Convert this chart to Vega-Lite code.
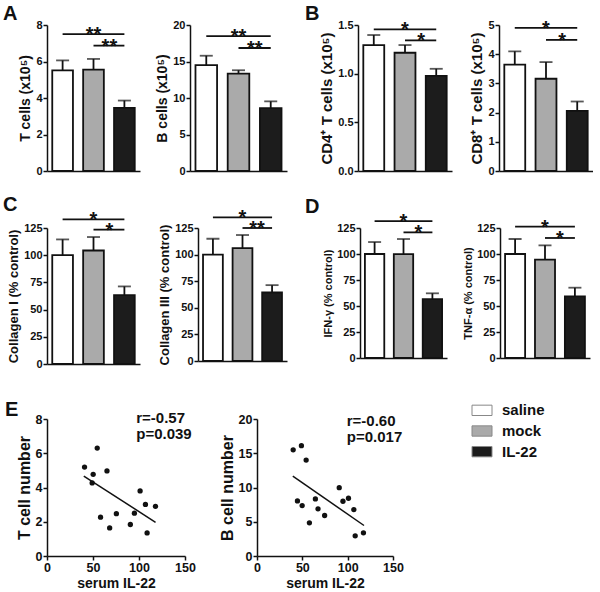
{
  "$schema": "https://vega.github.io/schema/vega-lite/v6.json",
  "padding": {"left": 3, "top": 4, "right": 0, "bottom": 0},
  "config": {
    "font": "Liberation Sans",
    "view": {"stroke": null},
    "axis": {"grid": false, "labelOverlap": false, "labelFlush": false, "domainColor": "#111", "domainWidth": 1.5, "tickColor": "#111", "tickWidth": 1.5, "tickSize": 4, "labelFontSize": 11, "labelFontWeight": "bold", "labelColor": "#111", "labelPadding": 1, "titleFontSize": 14, "titleFontWeight": "bold", "titleColor": "#111", "titlePadding": 3},
    "title": {"fontSize": 20, "fontWeight": "bold", "anchor": "start", "frame": "group", "color": "#111", "offset": -5}
  },
  "datasets": {
    "bars": [
      {"panel": "A1", "group": "saline", "mean": 5.51, "upper": 6.06},
      {"panel": "A1", "group": "mock", "mean": 5.55, "upper": 6.14},
      {"panel": "A1", "group": "IL-22", "mean": 3.46, "upper": 3.86},
      {"panel": "A2", "group": "saline", "mean": 14.49, "upper": 15.79},
      {"panel": "A2", "group": "mock", "mean": 13.33, "upper": 13.8},
      {"panel": "A2", "group": "IL-22", "mean": 8.61, "upper": 9.54},
      {"panel": "B1", "group": "saline", "mean": 1.294, "upper": 1.397},
      {"panel": "B1", "group": "mock", "mean": 1.215, "upper": 1.294},
      {"panel": "B1", "group": "IL-22", "mean": 0.978, "upper": 1.05},
      {"panel": "B2", "group": "saline", "mean": 3.64, "upper": 4.1},
      {"panel": "B2", "group": "mock", "mean": 3.16, "upper": 3.73},
      {"panel": "B2", "group": "IL-22", "mean": 2.06, "upper": 2.38},
      {"panel": "C1", "group": "saline", "mean": 100, "upper": 114.5},
      {"panel": "C1", "group": "mock", "mean": 104.3, "upper": 116.7},
      {"panel": "C1", "group": "IL-22", "mean": 63.3, "upper": 71.3},
      {"panel": "C2", "group": "saline", "mean": 100, "upper": 114.9},
      {"panel": "C2", "group": "mock", "mean": 106.1, "upper": 118.4},
      {"panel": "C2", "group": "IL-22", "mean": 64.4, "upper": 71.3},
      {"panel": "D1", "group": "saline", "mean": 100, "upper": 111.5},
      {"panel": "D1", "group": "mock", "mean": 99.8, "upper": 114.4},
      {"panel": "D1", "group": "IL-22", "mean": 56.7, "upper": 62.2},
      {"panel": "D2", "group": "saline", "mean": 100, "upper": 114.4},
      {"panel": "D2", "group": "mock", "mean": 94.6, "upper": 108.3},
      {"panel": "D2", "group": "IL-22", "mean": 59.3, "upper": 67.6}
    ],
    "brackets": [
      {"panel": "A1", "from": "saline", "to": "IL-22", "level": 7.5, "label": "**", "kind": "long"},
      {"panel": "A1", "from": "mock", "to": "IL-22", "level": 6.87, "label": "**", "kind": "short"},
      {"panel": "A2", "from": "saline", "to": "IL-22", "level": 18.47, "label": "**", "kind": "long"},
      {"panel": "A2", "from": "mock", "to": "IL-22", "level": 16.85, "label": "**", "kind": "short"},
      {"panel": "B1", "from": "saline", "to": "IL-22", "level": 1.456, "label": "*", "kind": "long"},
      {"panel": "B1", "from": "mock", "to": "IL-22", "level": 1.342, "label": "*", "kind": "short"},
      {"panel": "B2", "from": "saline", "to": "IL-22", "level": 4.9, "label": "*", "kind": "long"},
      {"panel": "B2", "from": "mock", "to": "IL-22", "level": 4.49, "label": "*", "kind": "short"},
      {"panel": "C1", "from": "saline", "to": "IL-22", "level": 133, "label": "*", "kind": "long"},
      {"panel": "C1", "from": "mock", "to": "IL-22", "level": 123.5, "label": "*", "kind": "short"},
      {"panel": "C2", "from": "saline", "to": "IL-22", "level": 135, "label": "*", "kind": "long"},
      {"panel": "C2", "from": "mock", "to": "IL-22", "level": 125, "label": "**", "kind": "short"},
      {"panel": "D1", "from": "saline", "to": "IL-22", "level": 131.7, "label": "*", "kind": "long"},
      {"panel": "D1", "from": "mock", "to": "IL-22", "level": 120.8, "label": "*", "kind": "short"},
      {"panel": "D2", "from": "saline", "to": "IL-22", "level": 126.3, "label": "*", "kind": "long"},
      {"panel": "D2", "from": "mock", "to": "IL-22", "level": 115.4, "label": "*", "kind": "short"}
    ],
    "scatter": [
      {"panel": "E1", "il22": 40.8, "cells": 5.19},
      {"panel": "E1", "il22": 54.6, "cells": 6.3},
      {"panel": "E1", "il22": 50.2, "cells": 4.77},
      {"panel": "E1", "il22": 49.1, "cells": 4.27},
      {"panel": "E1", "il22": 65.2, "cells": 4.97},
      {"panel": "E1", "il22": 101.2, "cells": 3.8},
      {"panel": "E1", "il22": 107.0, "cells": 3.01},
      {"panel": "E1", "il22": 117.9, "cells": 2.9},
      {"panel": "E1", "il22": 95.0, "cells": 2.5},
      {"panel": "E1", "il22": 75.4, "cells": 2.47},
      {"panel": "E1", "il22": 58.2, "cells": 2.27},
      {"panel": "E1", "il22": 68.1, "cells": 1.64},
      {"panel": "E1", "il22": 90.6, "cells": 1.84},
      {"panel": "E1", "il22": 108.8, "cells": 1.35},
      {"panel": "E2", "il22": 39.9, "cells": 15.5},
      {"panel": "E2", "il22": 49.0, "cells": 16.1},
      {"panel": "E2", "il22": 54.2, "cells": 14.0},
      {"panel": "E2", "il22": 44.6, "cells": 8.04},
      {"panel": "E2", "il22": 49.8, "cells": 7.36},
      {"panel": "E2", "il22": 64.4, "cells": 8.33},
      {"panel": "E2", "il22": 67.3, "cells": 6.88},
      {"panel": "E2", "il22": 57.8, "cells": 4.84},
      {"panel": "E2", "il22": 74.6, "cells": 5.91},
      {"panel": "E2", "il22": 90.7, "cells": 9.98},
      {"panel": "E2", "il22": 94.8, "cells": 7.99},
      {"panel": "E2", "il22": 100.9, "cells": 8.43},
      {"panel": "E2", "il22": 106.8, "cells": 6.78},
      {"panel": "E2", "il22": 108.3, "cells": 2.95},
      {"panel": "E2", "il22": 117.4, "cells": 3.39}
    ]
  },
  "concat": [
    {
      "concat": [
        {
          "hconcat": [
            {
              "hconcat": [
                {
                  "width": 93, "height": 146,
                  "title": {"text": "A", "dx": -44},
                  "layer": [
                    {"data": {"name": "bars"}, "transform": [{"filter": "datum.panel==='A1'"}], "mark": {"type": "bar", "stroke": "#111", "strokeWidth": 1.8},
                     "encoding": {"x": {"field": "group", "type": "nominal", "scale": {"domain": ["saline", "mock", "IL-22"], "paddingInner": 0.33, "paddingOuter": 0.17}, "axis": {"ticks": false, "labels": false, "title": null}},
                                  "y": {"field": "mean", "type": "quantitative", "scale": {"domain": [0, 8], "nice": false}, "axis": {"values": [0, 2, 4, 6, 8], "format": "d", "tickCount": 20, "labelOverlap": false, "title": "T cells (x10⁵)"}},
                                  "fill": {"field": "group", "type": "nominal", "scale": {"domain": ["saline", "mock", "IL-22"], "range": ["#ffffff", "#aaaaaa", "#1c1c1c"]}, "legend": null}}},
                    {"data": {"name": "bars"}, "transform": [{"filter": "datum.panel==='A1'"}], "mark": {"type": "rule", "strokeWidth": 1.8, "color": "#111"},
                     "encoding": {"x": {"field": "group", "type": "nominal"}, "y": {"field": "mean", "type": "quantitative"}, "y2": {"field": "upper"}}},
                    {"data": {"name": "bars"}, "transform": [{"filter": "datum.panel==='A1'"}], "mark": {"type": "tick", "thickness": 1.8, "size": 13, "color": "#111"},
                     "encoding": {"x": {"field": "group", "type": "nominal"}, "y": {"field": "upper", "type": "quantitative"}}},
                    {"data": {"name": "brackets"}, "transform": [{"filter": "datum.panel==='A1'"}], "mark": {"type": "rule", "strokeWidth": 1.8, "color": "#111"},
                     "encoding": {"x": {"field": "from", "type": "nominal"}, "x2": {"field": "to"}, "y": {"field": "level", "type": "quantitative"}}},
                    {"data": {"name": "brackets"}, "transform": [{"filter": "datum.panel==='A1' && datum.kind==='long'"}], "mark": {"type": "text", "fontSize": 20, "fontWeight": "bold", "dy": 7, "baseline": "alphabetic", "color": "#111"},
                     "encoding": {"x": {"datum": "mock"}, "y": {"field": "level", "type": "quantitative"}, "text": {"field": "label"}}},
                    {"data": {"name": "brackets"}, "transform": [{"filter": "datum.panel==='A1' && datum.kind==='short'"}], "mark": {"type": "text", "fontSize": 20, "fontWeight": "bold", "dy": 7, "dx": -15, "baseline": "alphabetic", "color": "#111"},
                     "encoding": {"x": {"datum": "IL-22"}, "y": {"field": "level", "type": "quantitative"}, "text": {"field": "label"}}}
                  ]
                },
                {
                  "width": 97, "height": 146,
                  "layer": [
                    {"data": {"name": "bars"}, "transform": [{"filter": "datum.panel==='A2'"}], "mark": {"type": "bar", "stroke": "#111", "strokeWidth": 1.8},
                     "encoding": {"x": {"field": "group", "type": "nominal", "scale": {"domain": ["saline", "mock", "IL-22"], "paddingInner": 0.33, "paddingOuter": 0.17}, "axis": {"ticks": false, "labels": false, "title": null}},
                                  "y": {"field": "mean", "type": "quantitative", "scale": {"domain": [0, 20], "nice": false}, "axis": {"values": [0, 5, 10, 15, 20], "format": "d", "tickCount": 20, "labelOverlap": false, "title": "B cells (x10⁵)"}},
                                  "fill": {"field": "group", "type": "nominal", "scale": {"domain": ["saline", "mock", "IL-22"], "range": ["#ffffff", "#aaaaaa", "#1c1c1c"]}, "legend": null}}},
                    {"data": {"name": "bars"}, "transform": [{"filter": "datum.panel==='A2'"}], "mark": {"type": "rule", "strokeWidth": 1.8, "color": "#111"},
                     "encoding": {"x": {"field": "group", "type": "nominal"}, "y": {"field": "mean", "type": "quantitative"}, "y2": {"field": "upper"}}},
                    {"data": {"name": "bars"}, "transform": [{"filter": "datum.panel==='A2'"}], "mark": {"type": "tick", "thickness": 1.8, "size": 13, "color": "#111"},
                     "encoding": {"x": {"field": "group", "type": "nominal"}, "y": {"field": "upper", "type": "quantitative"}}},
                    {"data": {"name": "brackets"}, "transform": [{"filter": "datum.panel==='A2'"}], "mark": {"type": "rule", "strokeWidth": 1.8, "color": "#111"},
                     "encoding": {"x": {"field": "from", "type": "nominal"}, "x2": {"field": "to"}, "y": {"field": "level", "type": "quantitative"}}},
                    {"data": {"name": "brackets"}, "transform": [{"filter": "datum.panel==='A2' && datum.kind==='long'"}], "mark": {"type": "text", "fontSize": 20, "fontWeight": "bold", "dy": 7, "baseline": "alphabetic", "color": "#111"},
                     "encoding": {"x": {"datum": "mock"}, "y": {"field": "level", "type": "quantitative"}, "text": {"field": "label"}}},
                    {"data": {"name": "brackets"}, "transform": [{"filter": "datum.panel==='A2' && datum.kind==='short'"}], "mark": {"type": "text", "fontSize": 20, "fontWeight": "bold", "dy": 7, "dx": -16, "baseline": "alphabetic", "color": "#111"},
                     "encoding": {"x": {"datum": "IL-22"}, "y": {"field": "level", "type": "quantitative"}, "text": {"field": "label"}}}
                  ]
                }
              ],
              "spacing": 50, "bounds": "flush"
            },
            {
              "hconcat": [
                {
                  "width": 94, "height": 146,
                  "title": {"text": "B", "dx": -53},
                  "layer": [
                    {"data": {"name": "bars"}, "transform": [{"filter": "datum.panel==='B1'"}], "mark": {"type": "bar", "stroke": "#111", "strokeWidth": 1.8},
                     "encoding": {"x": {"field": "group", "type": "nominal", "scale": {"domain": ["saline", "mock", "IL-22"], "paddingInner": 0.33, "paddingOuter": 0.17}, "axis": {"ticks": false, "labels": false, "title": null}},
                                  "y": {"field": "mean", "type": "quantitative", "scale": {"domain": [0, 1.5], "nice": false}, "axis": {"values": [0, 0.5, 1, 1.5], "tickCount": 20, "labelOverlap": false, "format": ".1f", "title": "CD4⁺ T cells (x10⁵)", "titleFontSize": 15}},
                                  "fill": {"field": "group", "type": "nominal", "scale": {"domain": ["saline", "mock", "IL-22"], "range": ["#ffffff", "#aaaaaa", "#1c1c1c"]}, "legend": null}}},
                    {"data": {"name": "bars"}, "transform": [{"filter": "datum.panel==='B1'"}], "mark": {"type": "rule", "strokeWidth": 1.8, "color": "#111"},
                     "encoding": {"x": {"field": "group", "type": "nominal"}, "y": {"field": "mean", "type": "quantitative"}, "y2": {"field": "upper"}}},
                    {"data": {"name": "bars"}, "transform": [{"filter": "datum.panel==='B1'"}], "mark": {"type": "tick", "thickness": 1.8, "size": 13, "color": "#111"},
                     "encoding": {"x": {"field": "group", "type": "nominal"}, "y": {"field": "upper", "type": "quantitative"}}},
                    {"data": {"name": "brackets"}, "transform": [{"filter": "datum.panel==='B1'"}], "mark": {"type": "rule", "strokeWidth": 1.8, "color": "#111"},
                     "encoding": {"x": {"field": "from", "type": "nominal"}, "x2": {"field": "to"}, "y": {"field": "level", "type": "quantitative"}}},
                    {"data": {"name": "brackets"}, "transform": [{"filter": "datum.panel==='B1' && datum.kind==='long'"}], "mark": {"type": "text", "fontSize": 20, "fontWeight": "bold", "dy": 7, "baseline": "alphabetic", "color": "#111"},
                     "encoding": {"x": {"datum": "mock"}, "y": {"field": "level", "type": "quantitative"}, "text": {"field": "label"}}},
                    {"data": {"name": "brackets"}, "transform": [{"filter": "datum.panel==='B1' && datum.kind==='short'"}], "mark": {"type": "text", "fontSize": 20, "fontWeight": "bold", "dy": 7, "dx": -15, "baseline": "alphabetic", "color": "#111"},
                     "encoding": {"x": {"datum": "IL-22"}, "y": {"field": "level", "type": "quantitative"}, "text": {"field": "label"}}}
                  ]
                },
                {
                  "width": 94, "height": 146,
                  "layer": [
                    {"data": {"name": "bars"}, "transform": [{"filter": "datum.panel==='B2'"}], "mark": {"type": "bar", "stroke": "#111", "strokeWidth": 1.8},
                     "encoding": {"x": {"field": "group", "type": "nominal", "scale": {"domain": ["saline", "mock", "IL-22"], "paddingInner": 0.33, "paddingOuter": 0.17}, "axis": {"ticks": false, "labels": false, "title": null}},
                                  "y": {"field": "mean", "type": "quantitative", "scale": {"domain": [0, 5], "nice": false}, "axis": {"values": [0, 1, 2, 3, 4, 5], "format": "d", "tickCount": 20, "labelOverlap": false, "title": "CD8⁺ T cells (x10⁵)", "titleFontSize": 15}},
                                  "fill": {"field": "group", "type": "nominal", "scale": {"domain": ["saline", "mock", "IL-22"], "range": ["#ffffff", "#aaaaaa", "#1c1c1c"]}, "legend": null}}},
                    {"data": {"name": "bars"}, "transform": [{"filter": "datum.panel==='B2'"}], "mark": {"type": "rule", "strokeWidth": 1.8, "color": "#111"},
                     "encoding": {"x": {"field": "group", "type": "nominal"}, "y": {"field": "mean", "type": "quantitative"}, "y2": {"field": "upper"}}},
                    {"data": {"name": "bars"}, "transform": [{"filter": "datum.panel==='B2'"}], "mark": {"type": "tick", "thickness": 1.8, "size": 13, "color": "#111"},
                     "encoding": {"x": {"field": "group", "type": "nominal"}, "y": {"field": "upper", "type": "quantitative"}}},
                    {"data": {"name": "brackets"}, "transform": [{"filter": "datum.panel==='B2'"}], "mark": {"type": "rule", "strokeWidth": 1.8, "color": "#111"},
                     "encoding": {"x": {"field": "from", "type": "nominal"}, "x2": {"field": "to"}, "y": {"field": "level", "type": "quantitative"}}},
                    {"data": {"name": "brackets"}, "transform": [{"filter": "datum.panel==='B2' && datum.kind==='long'"}], "mark": {"type": "text", "fontSize": 20, "fontWeight": "bold", "dy": 7, "baseline": "alphabetic", "color": "#111"},
                     "encoding": {"x": {"datum": "mock"}, "y": {"field": "level", "type": "quantitative"}, "text": {"field": "label"}}},
                    {"data": {"name": "brackets"}, "transform": [{"filter": "datum.panel==='B2' && datum.kind==='short'"}], "mark": {"type": "text", "fontSize": 20, "fontWeight": "bold", "dy": 7, "dx": -15, "baseline": "alphabetic", "color": "#111"},
                     "encoding": {"x": {"datum": "IL-22"}, "y": {"field": "level", "type": "quantitative"}, "text": {"field": "label"}}}
                  ]
                }
              ],
              "spacing": 47, "bounds": "flush"
            }
          ],
          "spacing": 18
        },
        {
          "hconcat": [
            {
              "hconcat": [
                {
                  "width": 93, "height": 136,
                  "title": {"text": "C", "dx": -44},
                  "layer": [
                    {"data": {"name": "bars"}, "transform": [{"filter": "datum.panel==='C1'"}], "mark": {"type": "bar", "stroke": "#111", "strokeWidth": 1.8},
                     "encoding": {"x": {"field": "group", "type": "nominal", "scale": {"domain": ["saline", "mock", "IL-22"], "paddingInner": 0.33, "paddingOuter": 0.17}, "axis": {"ticks": false, "labels": false, "title": null}},
                                  "y": {"field": "mean", "type": "quantitative", "scale": {"domain": [0, 125], "nice": false}, "axis": {"values": [0, 25, 50, 75, 100, 125], "format": "d", "tickCount": 20, "labelOverlap": false, "title": "Collagen I (% control)", "titleFontSize": 13}},
                                  "fill": {"field": "group", "type": "nominal", "scale": {"domain": ["saline", "mock", "IL-22"], "range": ["#ffffff", "#aaaaaa", "#1c1c1c"]}, "legend": null}}},
                    {"data": {"name": "bars"}, "transform": [{"filter": "datum.panel==='C1'"}], "mark": {"type": "rule", "strokeWidth": 1.8, "color": "#111"},
                     "encoding": {"x": {"field": "group", "type": "nominal"}, "y": {"field": "mean", "type": "quantitative"}, "y2": {"field": "upper"}}},
                    {"data": {"name": "bars"}, "transform": [{"filter": "datum.panel==='C1'"}], "mark": {"type": "tick", "thickness": 1.8, "size": 13, "color": "#111"},
                     "encoding": {"x": {"field": "group", "type": "nominal"}, "y": {"field": "upper", "type": "quantitative"}}},
                    {"data": {"name": "brackets"}, "transform": [{"filter": "datum.panel==='C1'"}], "mark": {"type": "rule", "strokeWidth": 1.8, "color": "#111"},
                     "encoding": {"x": {"field": "from", "type": "nominal"}, "x2": {"field": "to"}, "y": {"field": "level", "type": "quantitative"}}},
                    {"data": {"name": "brackets"}, "transform": [{"filter": "datum.panel==='C1' && datum.kind==='long'"}], "mark": {"type": "text", "fontSize": 20, "fontWeight": "bold", "dy": 7, "baseline": "alphabetic", "color": "#111"},
                     "encoding": {"x": {"datum": "mock"}, "y": {"field": "level", "type": "quantitative"}, "text": {"field": "label"}}},
                    {"data": {"name": "brackets"}, "transform": [{"filter": "datum.panel==='C1' && datum.kind==='short'"}], "mark": {"type": "text", "fontSize": 20, "fontWeight": "bold", "dy": 7, "dx": -15, "baseline": "alphabetic", "color": "#111"},
                     "encoding": {"x": {"datum": "IL-22"}, "y": {"field": "level", "type": "quantitative"}, "text": {"field": "label"}}}
                  ]
                },
                {
                  "width": 89, "height": 133,
                  "layer": [
                    {"data": {"name": "bars"}, "transform": [{"filter": "datum.panel==='C2'"}], "mark": {"type": "bar", "stroke": "#111", "strokeWidth": 1.8},
                     "encoding": {"x": {"field": "group", "type": "nominal", "scale": {"domain": ["saline", "mock", "IL-22"], "paddingInner": 0.33, "paddingOuter": 0.17}, "axis": {"ticks": false, "labels": false, "title": null}},
                                  "y": {"field": "mean", "type": "quantitative", "scale": {"domain": [0, 125], "nice": false}, "axis": {"values": [0, 25, 50, 75, 100, 125], "format": "d", "tickCount": 20, "labelOverlap": false, "title": "Collagen III (% control)", "titleFontSize": 13}},
                                  "fill": {"field": "group", "type": "nominal", "scale": {"domain": ["saline", "mock", "IL-22"], "range": ["#ffffff", "#aaaaaa", "#1c1c1c"]}, "legend": null}}},
                    {"data": {"name": "bars"}, "transform": [{"filter": "datum.panel==='C2'"}], "mark": {"type": "rule", "strokeWidth": 1.8, "color": "#111"},
                     "encoding": {"x": {"field": "group", "type": "nominal"}, "y": {"field": "mean", "type": "quantitative"}, "y2": {"field": "upper"}}},
                    {"data": {"name": "bars"}, "transform": [{"filter": "datum.panel==='C2'"}], "mark": {"type": "tick", "thickness": 1.8, "size": 13, "color": "#111"},
                     "encoding": {"x": {"field": "group", "type": "nominal"}, "y": {"field": "upper", "type": "quantitative"}}},
                    {"data": {"name": "brackets"}, "transform": [{"filter": "datum.panel==='C2'"}], "mark": {"type": "rule", "strokeWidth": 1.8, "color": "#111"},
                     "encoding": {"x": {"field": "from", "type": "nominal"}, "x2": {"field": "to"}, "y": {"field": "level", "type": "quantitative"}}},
                    {"data": {"name": "brackets"}, "transform": [{"filter": "datum.panel==='C2' && datum.kind==='long'"}], "mark": {"type": "text", "fontSize": 20, "fontWeight": "bold", "dy": 7, "baseline": "alphabetic", "color": "#111"},
                     "encoding": {"x": {"datum": "mock"}, "y": {"field": "level", "type": "quantitative"}, "text": {"field": "label"}}},
                    {"data": {"name": "brackets"}, "transform": [{"filter": "datum.panel==='C2' && datum.kind==='short'"}], "mark": {"type": "text", "fontSize": 20, "fontWeight": "bold", "dy": 7, "dx": -15, "baseline": "alphabetic", "color": "#111"},
                     "encoding": {"x": {"datum": "IL-22"}, "y": {"field": "level", "type": "quantitative"}, "text": {"field": "label"}}}
                  ]
                }
              ],
              "spacing": 58, "bounds": "flush"
            },
            {
              "hconcat": [
                {
                  "width": 87, "height": 130,
                  "title": {"text": "D", "dx": -55},
                  "layer": [
                    {"data": {"name": "bars"}, "transform": [{"filter": "datum.panel==='D1'"}], "mark": {"type": "bar", "stroke": "#111", "strokeWidth": 1.8},
                     "encoding": {"x": {"field": "group", "type": "nominal", "scale": {"domain": ["saline", "mock", "IL-22"], "paddingInner": 0.33, "paddingOuter": 0.17}, "axis": {"ticks": false, "labels": false, "title": null}},
                                  "y": {"field": "mean", "type": "quantitative", "scale": {"domain": [0, 125], "nice": false}, "axis": {"values": [0, 25, 50, 75, 100, 125], "format": "d", "tickCount": 20, "labelOverlap": false, "title": "IFN-γ (% control)", "titleFontSize": 11}},
                                  "fill": {"field": "group", "type": "nominal", "scale": {"domain": ["saline", "mock", "IL-22"], "range": ["#ffffff", "#aaaaaa", "#1c1c1c"]}, "legend": null}}},
                    {"data": {"name": "bars"}, "transform": [{"filter": "datum.panel==='D1'"}], "mark": {"type": "rule", "strokeWidth": 1.8, "color": "#111"},
                     "encoding": {"x": {"field": "group", "type": "nominal"}, "y": {"field": "mean", "type": "quantitative"}, "y2": {"field": "upper"}}},
                    {"data": {"name": "bars"}, "transform": [{"filter": "datum.panel==='D1'"}], "mark": {"type": "tick", "thickness": 1.8, "size": 13, "color": "#111"},
                     "encoding": {"x": {"field": "group", "type": "nominal"}, "y": {"field": "upper", "type": "quantitative"}}},
                    {"data": {"name": "brackets"}, "transform": [{"filter": "datum.panel==='D1'"}], "mark": {"type": "rule", "strokeWidth": 1.8, "color": "#111"},
                     "encoding": {"x": {"field": "from", "type": "nominal"}, "x2": {"field": "to"}, "y": {"field": "level", "type": "quantitative"}}},
                    {"data": {"name": "brackets"}, "transform": [{"filter": "datum.panel==='D1' && datum.kind==='long'"}], "mark": {"type": "text", "fontSize": 20, "fontWeight": "bold", "dy": 7, "baseline": "alphabetic", "color": "#111"},
                     "encoding": {"x": {"datum": "mock"}, "y": {"field": "level", "type": "quantitative"}, "text": {"field": "label"}}},
                    {"data": {"name": "brackets"}, "transform": [{"filter": "datum.panel==='D1' && datum.kind==='short'"}], "mark": {"type": "text", "fontSize": 20, "fontWeight": "bold", "dy": 7, "dx": -14, "baseline": "alphabetic", "color": "#111"},
                     "encoding": {"x": {"datum": "IL-22"}, "y": {"field": "level", "type": "quantitative"}, "text": {"field": "label"}}}
                  ]
                },
                {
                  "width": 90, "height": 130,
                  "layer": [
                    {"data": {"name": "bars"}, "transform": [{"filter": "datum.panel==='D2'"}], "mark": {"type": "bar", "stroke": "#111", "strokeWidth": 1.8},
                     "encoding": {"x": {"field": "group", "type": "nominal", "scale": {"domain": ["saline", "mock", "IL-22"], "paddingInner": 0.33, "paddingOuter": 0.17}, "axis": {"ticks": false, "labels": false, "title": null}},
                                  "y": {"field": "mean", "type": "quantitative", "scale": {"domain": [0, 125], "nice": false}, "axis": {"values": [0, 25, 50, 75, 100, 125], "format": "d", "tickCount": 20, "labelOverlap": false, "title": "TNF-α (% control)", "titleFontSize": 11}},
                                  "fill": {"field": "group", "type": "nominal", "scale": {"domain": ["saline", "mock", "IL-22"], "range": ["#ffffff", "#aaaaaa", "#1c1c1c"]}, "legend": null}}},
                    {"data": {"name": "bars"}, "transform": [{"filter": "datum.panel==='D2'"}], "mark": {"type": "rule", "strokeWidth": 1.8, "color": "#111"},
                     "encoding": {"x": {"field": "group", "type": "nominal"}, "y": {"field": "mean", "type": "quantitative"}, "y2": {"field": "upper"}}},
                    {"data": {"name": "bars"}, "transform": [{"filter": "datum.panel==='D2'"}], "mark": {"type": "tick", "thickness": 1.8, "size": 13, "color": "#111"},
                     "encoding": {"x": {"field": "group", "type": "nominal"}, "y": {"field": "upper", "type": "quantitative"}}},
                    {"data": {"name": "brackets"}, "transform": [{"filter": "datum.panel==='D2'"}], "mark": {"type": "rule", "strokeWidth": 1.8, "color": "#111"},
                     "encoding": {"x": {"field": "from", "type": "nominal"}, "x2": {"field": "to"}, "y": {"field": "level", "type": "quantitative"}}},
                    {"data": {"name": "brackets"}, "transform": [{"filter": "datum.panel==='D2' && datum.kind==='long'"}], "mark": {"type": "text", "fontSize": 20, "fontWeight": "bold", "dy": 7, "baseline": "alphabetic", "color": "#111"},
                     "encoding": {"x": {"datum": "mock"}, "y": {"field": "level", "type": "quantitative"}, "text": {"field": "label"}}},
                    {"data": {"name": "brackets"}, "transform": [{"filter": "datum.panel==='D2' && datum.kind==='short'"}], "mark": {"type": "text", "fontSize": 20, "fontWeight": "bold", "dy": 7, "dx": -15, "baseline": "alphabetic", "color": "#111"},
                     "encoding": {"x": {"datum": "IL-22"}, "y": {"field": "level", "type": "quantitative"}, "text": {"field": "label"}}}
                  ]
                }
              ],
              "spacing": 53, "bounds": "flush"
            }
          ],
          "spacing": 18
        }
      ],
      "columns": 1, "align": "none", "spacing": 19
    },
    {
      "hconcat": [
        {
          "hconcat": [
            {
              "width": 138, "height": 137,
              "title": {"text": "E", "dx": -42, "offset": -9},
              "layer": [
                {"data": {"name": "scatter"}, "transform": [{"filter": "datum.panel==='E1'"}], "mark": {"type": "circle", "size": 28, "color": "#111", "opacity": 1},
                 "encoding": {"x": {"field": "il22", "type": "quantitative", "scale": {"domain": [0, 150], "nice": false}, "axis": {"values": [0, 50, 100, 150], "format": "d", "tickCount": 20, "labelOverlap": false, "title": "serum IL-22", "labelFontSize": 12.5, "titleFontSize": 14}},
                              "y": {"field": "cells", "type": "quantitative", "scale": {"domain": [0, 8], "nice": false}, "axis": {"values": [0, 2, 4, 6, 8], "format": "d", "tickCount": 20, "labelOverlap": false, "title": "T cell number", "labelFontSize": 12.5, "titleFontSize": 16}}}},
                {"data": {"name": "scatter"}, "transform": [{"filter": "datum.panel==='E1'"}, {"regression": "cells", "on": "il22", "extent": [40, 118]}], "mark": {"type": "line", "color": "#111", "strokeWidth": 1.5},
                 "encoding": {"x": {"field": "il22", "type": "quantitative"}, "y": {"field": "cells", "type": "quantitative"}}},
                {"data": {"values": [{"label": ["r=-0.57", "p=0.039"]}]}, "mark": {"type": "text", "align": "left", "baseline": "alphabetic", "fontSize": 15, "fontWeight": "bold", "lineHeight": 16, "color": "#111"},
                 "encoding": {"x": {"datum": 97}, "y": {"datum": 7.77}, "text": {"field": "label"}}}
              ]
            },
            {
              "width": 136, "height": 137,
              "layer": [
                {"data": {"name": "scatter"}, "transform": [{"filter": "datum.panel==='E2'"}], "mark": {"type": "circle", "size": 28, "color": "#111", "opacity": 1},
                 "encoding": {"x": {"field": "il22", "type": "quantitative", "scale": {"domain": [0, 150], "nice": false}, "axis": {"values": [0, 50, 100, 150], "format": "d", "tickCount": 20, "labelOverlap": false, "title": "serum IL-22", "labelFontSize": 12.5, "titleFontSize": 14}},
                              "y": {"field": "cells", "type": "quantitative", "scale": {"domain": [0, 20], "nice": false}, "axis": {"values": [0, 5, 10, 15, 20], "format": "d", "tickCount": 20, "labelOverlap": false, "title": "B cell number", "labelFontSize": 12.5, "titleFontSize": 16}}}},
                {"data": {"name": "scatter"}, "transform": [{"filter": "datum.panel==='E2'"}, {"regression": "cells", "on": "il22", "extent": [39.5, 118]}], "mark": {"type": "line", "color": "#111", "strokeWidth": 1.5},
                 "encoding": {"x": {"field": "il22", "type": "quantitative"}, "y": {"field": "cells", "type": "quantitative"}}},
                {"data": {"values": [{"label": ["r=-0.60", "p=0.017"]}]}, "mark": {"type": "text", "align": "left", "baseline": "alphabetic", "fontSize": 15, "fontWeight": "bold", "lineHeight": 16, "color": "#111"},
                 "encoding": {"x": {"datum": 99}, "y": {"datum": 19}, "text": {"field": "label"}}}
              ]
            },
            {
              "width": 100, "height": 137,
              "data": {"values": [{"group": "saline"}, {"group": "mock"}, {"group": "IL-22"}]},
              "layer": [
                {"mark": {"type": "bar", "stroke": "#888", "strokeWidth": 1},
                 "encoding": {"y": {"field": "group", "type": "nominal", "scale": {"domain": ["saline", "mock", "IL-22"], "range": [-19, 43], "paddingInner": 0.5, "paddingOuter": 0.25}, "axis": null},
                              "x": {"datum": 0.35, "type": "quantitative", "scale": {"domain": [0, 5], "nice": false, "zero": false}, "axis": null},
                              "x2": {"datum": 1.35},
                              "fill": {"field": "group", "type": "nominal", "scale": {"domain": ["saline", "mock", "IL-22"], "range": ["#ffffff", "#aaaaaa", "#1c1c1c"]}, "legend": null}}},
                {"mark": {"type": "text", "align": "left", "baseline": "middle", "fontSize": 15, "fontWeight": "bold", "color": "#111"},
                 "encoding": {"y": {"field": "group", "type": "nominal"}, "x": {"datum": 1.85, "type": "quantitative"}, "text": {"field": "group"}}}
              ]
            }
          ],
          "spacing": 72, "bounds": "flush"
        }
      ]
    }
  ],
  "columns": 1, "align": "none", "spacing": 30
}
